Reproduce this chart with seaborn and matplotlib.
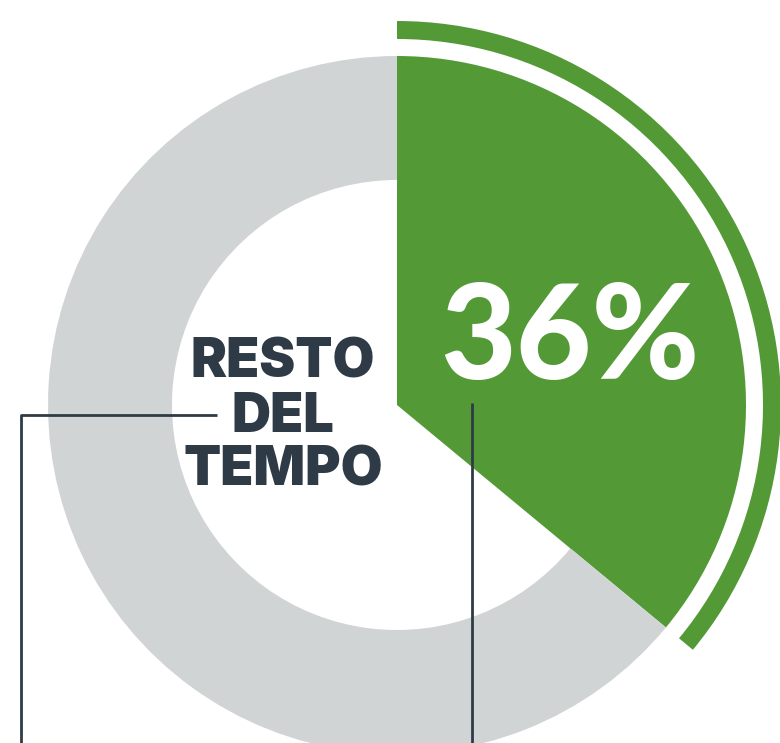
import matplotlib
matplotlib.use("Agg")
import matplotlib.pyplot as plt
import seaborn as sns

# Data
categories = ["Tempo indicato", "Resto del tempo"]
shares = [36, 64]
highlight_label = "36%"
center_label_lines = ["RESTO", "DEL", "TEMPO"]

GREEN = "#539a37"
GREY = "#d1d4d5"
DARK = "#2e3b46"

sns.set_theme(style="white")
plt.rcParams["font.family"] = ["Inter", "DejaVu Sans"]

fig = plt.figure(figsize=(7.8, 7.43), dpi=100)
ax = fig.add_axes([0, 0, 1, 1])

cx, cy = 397, -405
R_out, R_in = 349, 225
ring_colors = sns.color_palette([GREEN, GREY])

# grey/green ring
ax.pie(shares, colors=ring_colors, startangle=90, counterclock=False,
       radius=R_out, center=(cx, cy),
       wedgeprops=dict(width=R_out - R_in, linewidth=0, antialiased=True))
# fill the highlighted slice to the centre
ax.pie(shares, colors=[GREEN, "none"], startangle=90, counterclock=False,
       radius=R_in + 1, center=(cx, cy), wedgeprops=dict(linewidth=0))
# outer thin arc
ax.pie(shares, colors=[GREEN, "none"], startangle=90, counterclock=False,
       radius=384, center=(cx, cy), wedgeprops=dict(width=18, linewidth=0))

# leader lines
ax.plot([217, 21, 21], [-415, -415, -760], color=DARK, lw=2, solid_capstyle="butt")
ax.plot([472, 472], [-403, -760], color=DARK, lw=2, solid_capstyle="butt")

# labels
ax.text(570, -341, highlight_label, color="white", fontsize=94, fontweight="black",
        ha="center", va="center", family=["Lato", "DejaVu Sans"])
for i, line in enumerate(center_label_lines):
    ax.text(283, -378 - i * 53.5, line, color=DARK, fontsize=39, fontweight="black",
            ha="center", va="baseline")

ax.set_xlim(0, 780)
ax.set_ylim(-743, 0)
ax.set_aspect("equal")
ax.axis("off")

fig.savefig("out.png", dpi=100, facecolor="white")
